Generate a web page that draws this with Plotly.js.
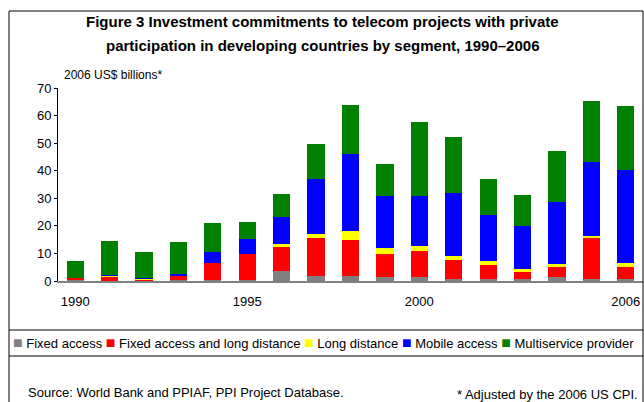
<!DOCTYPE html>
<html>
<head>
<meta charset="utf-8">
<script src="https://cdn.plot.ly/plotly-3.0.1.min.js"></script>
<style>html,body{margin:0;padding:0;background:#fff;}#chart{width:644px;height:402px;}</style>
</head>
<body>
<div id="chart"></div>
<script>
var years = [1990,1991,1992,1993,1994,1995,1996,1997,1998,1999,2000,2001,2002,2003,2004,2005,2006];
var fixedAccess = [0.2,0.1,0.1,0.2,0.2,0.3,3.5,1.7,1.7,1.3,1.3,0.9,0.9,0.9,1.3,0.9,0.9];
var fixedLongDistance = [0.8,1.2,0.2,1.5,6.3,9.6,8.8,13.8,13.0,8.6,9.5,6.6,4.8,2.5,3.9,14.6,4.3];
var longDistance = [0,0.4,0.3,0.1,0.1,0,1.0,1.4,3.4,2.2,1.8,1.6,1.5,0.8,0.8,0.9,1.3];
var mobileAccess = [0,0.5,0.5,0.9,4.1,5.2,9.9,20.0,27.9,18.6,18.4,22.8,16.9,15.7,22.8,26.7,33.9];
var multiservice = [6.1,12.4,9.5,11.4,10.3,6.3,8.4,12.9,17.9,11.8,26.5,20.4,12.8,11.4,18.5,22.2,23.2];
var seriesNames = ["Fixed access","Fixed access and long distance","Long distance","Mobile access","Multiservice provider"];
var xTickVals = [1990,1995,2000,2006];
var xTickText = ["1990","1995","2000","2006"];

var colors = ["#808080","#FF0000","#FFFF00","#0000FF","#008000"];
var seriesData = [fixedAccess, fixedLongDistance, longDistance, mobileAccess, multiservice];

var W = 644, H = 402, L = 58, R = 1, T = 88, B = 121;
function px2x(px){ return (px - L) / (W - L - R); }
function px2y(py){ return (H - B - py) / (H - T - B); }

var traces = seriesData.map(function(vals, i){
  return {type:'bar', x: years, y: vals, name: seriesNames[i],
    marker:{color: colors[i], line:{width:0}}, hoverinfo:'x+y+name'};
});

var FONT = 'Liberation Sans, Arial, sans-serif';
var legendHtml = seriesNames.map(function(n,i){
  return '<span style="color:'+colors[i]+';font-size:16px">\u25A0</span> ' + n;
}).join(' ');

var layout = {
  width: W, height: H,
  margin:{l:L, r:R, t:T, b:B, pad:0},
  barmode:'stack', bargap:0.5,
  showlegend:false,
  paper_bgcolor:'#fff', plot_bgcolor:'#fff',
  font:{family:FONT, size:13, color:'#000'},
  xaxis:{range:[1989.5,2006.5], tickvals:xTickVals, ticktext:xTickText,
    showline:true, linecolor:'#808080', linewidth:2, showgrid:false, zeroline:false,
    ticks:'outside', ticklen:7, tickcolor:'rgba(0,0,0,0)', tickfont:{size:13, family:FONT}},
  yaxis:{range:[0,70], dtick:10, showline:true, linecolor:'#000', linewidth:1,
    showgrid:false, zeroline:false, ticks:'outside', ticklen:3, tickcolor:'#000',
    tickfont:{size:13, family:FONT}},
  shapes:[
    {type:'rect', xref:'paper', yref:'paper', x0:px2x(9), x1:px2x(643), y0:px2y(11), y1:px2y(410), line:{color:'#000', width:1}},
    {type:'line', xref:'paper', yref:'paper', x0:px2x(9), x1:px2x(643), y0:px2y(330), y1:px2y(330), line:{color:'#000', width:1}},
    {type:'line', xref:'paper', yref:'paper', x0:px2x(9), x1:px2x(643), y0:px2y(356), y1:px2y(356), line:{color:'#000', width:1}}
  ],
  annotations:[
    {xref:'paper', yref:'paper', x:px2x(322), y:px2y(22), xanchor:'center', yanchor:'middle', showarrow:false,
      text:'<b>Figure 3 Investment commitments to telecom projects with private</b>', font:{size:15, family:FONT}},
    {xref:'paper', yref:'paper', x:px2x(322), y:px2y(46), xanchor:'center', yanchor:'middle', showarrow:false,
      text:'<b>participation in developing countries by segment, 1990\u20132006</b>', font:{size:15, family:FONT}},
    {xref:'paper', yref:'paper', x:px2x(62), y:px2y(75), xanchor:'left', yanchor:'middle', showarrow:false,
      text:'2006 US$ billions*', font:{size:12, family:FONT}},
    {xref:'paper', yref:'paper', x:px2x(11), y:px2y(342), xanchor:'left', yanchor:'middle', showarrow:false,
      text:legendHtml, font:{size:13, family:FONT}},
    {xref:'paper', yref:'paper', x:px2x(26), y:px2y(392), xanchor:'left', yanchor:'middle', showarrow:false,
      text:'Source: World Bank and PPIAF, PPI Project Database.', font:{size:13, family:FONT}},
    {xref:'paper', yref:'paper', x:px2x(640), y:px2y(394), xanchor:'right', yanchor:'middle', showarrow:false,
      text:'* Adjusted by the 2006 US CPI.', font:{size:13, family:FONT}}
  ]
};

Plotly.newPlot('chart', traces, layout, {displayModeBar:false, staticPlot:true});
</script>
</body>
</html>
